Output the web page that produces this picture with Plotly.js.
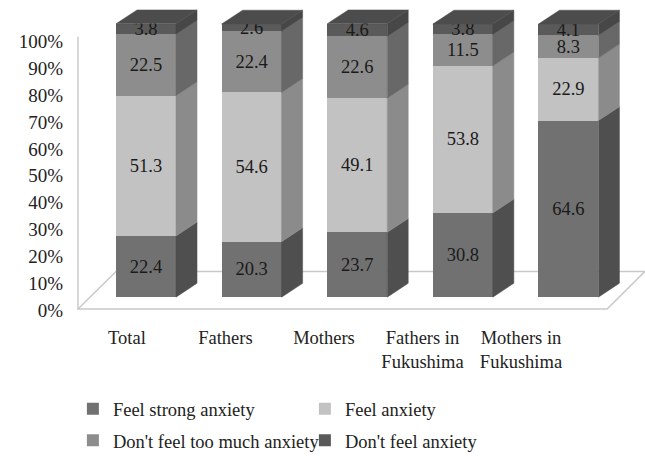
<!DOCTYPE html>
<html>
<head>
<meta charset="utf-8">
<script src="https://cdn.plot.ly/plotly-3.0.1.min.js"></script>
<style>html,body{margin:0;padding:0;background:#fff;}#chart{width:645px;height:460px;}</style>
</head>
<body>
<div id="chart"></div>
<script>
// ---- data ----
const categories = ['Total', 'Fathers', 'Mothers', 'Fathers in<br>Fukushima', 'Mothers in<br>Fukushima'];
const seriesNames = ['Feel strong anxiety', 'Feel anxiety', "Don't feel too much anxiety", "Don't feel anxiety"];
const strongAnxiety = [22.4, 20.3, 23.7, 30.8, 64.6];
const feelAnxiety   = [51.3, 54.6, 49.1, 53.8, 22.9];
const notTooMuch    = [22.5, 22.4, 22.6, 11.5, 8.3];
const noAnxiety     = [3.8, 2.6, 4.6, 3.8, 4.1];
const yTicks = [0, 10, 20, 30, 40, 50, 60, 70, 80, 90, 100];

// ---- style ----
const FONT = 'Liberation Serif';
const frontColors = ['#717171', '#c2c2c2', '#8d8d8d', '#5a5a5a'];
const sideColors  = ['#4f4f4f', '#8b8b8b', '#686868', '#474747'];
const topColor = '#4c4c4c';
const W = 0.568, DX = 0.199, DY = 5.07;

const series = [strongAnxiety, feelAnxiety, notTooMuch, noAnxiety];
const pos = categories.map((_, i) => i);

const traces = [];
series.forEach((vals, j) => {
  traces.push({
    type: 'bar', name: seriesNames[j], x: pos, y: vals, width: W,
    marker: {color: frontColors[j], line: {width: 0}},
    text: vals.map(v => v.toFixed(1)), textposition: 'inside', insidetextanchor: 'middle',
    textangle: 0, constraintext: 'none',
    insidetextfont: {family: FONT, size: 18.5, color: '#1a1a1a'},
    legend: j < 2 ? 'legend' : 'legend2',
    hoverinfo: 'skip'
  });
});

// 3D side faces built from the stacked values
series.forEach((vals, j) => {
  const xs = [], ys = [];
  pos.forEach(i => {
    let base = 0;
    for (let k = 0; k < j; k++) base += series[k][i];
    const top = base + vals[i];
    const xr = i + W / 2;
    xs.push(xr, xr + DX, xr + DX, xr, xr, null);
    ys.push(base, base + DY, top + DY, top, base, null);
  });
  traces.push({type: 'scatter', x: xs, y: ys, mode: 'lines', fill: 'toself',
    fillcolor: sideColors[j], line: {color: sideColors[j], width: 0.5},
    showlegend: false, hoverinfo: 'skip'});
});
{
  const xs = [], ys = [];
  pos.forEach(i => {
    let total = 0;
    series.forEach(s => total += s[i]);
    const xl = i - W / 2, xr = i + W / 2;
    xs.push(xl, xl + DX, xr + DX, xr, xl, null);
    ys.push(total, total + DY, total + DY, total, total, null);
  });
  traces.push({type: 'scatter', x: xs, y: ys, mode: 'lines', fill: 'toself',
    fillcolor: topColor, line: {color: topColor, width: 0.5},
    showlegend: false, hoverinfo: 'skip'});
}
// anchor trace for the label axes
traces.push({type: 'scatter', x: [0], y: [0], xaxis: 'x2', yaxis: 'y2', mode: 'markers',
  marker: {opacity: 0}, showlegend: false, hoverinfo: 'skip'});

const legendBase = {orientation: 'h', xanchor: 'left', yanchor: 'middle', x: -0.009,
  entrywidth: 187, traceorder: 'normal', bgcolor: 'rgba(0,0,0,0)',
  font: {family: FONT, size: 18.5, color: '#222'}};

const layout = {
  width: 645, height: 460,
  margin: {l: 78, r: 0, t: 5, b: 147},
  paper_bgcolor: '#fff', plot_bgcolor: 'rgba(0,0,0,0)',
  font: {family: FONT, size: 18, color: '#222'},
  barmode: 'stack', hovermode: false,
  xaxis: {range: [-0.644, 4.725], showgrid: false, zeroline: false, showticklabels: false, showline: false, fixedrange: true},
  yaxis: {range: [-4.71, 106.88], showgrid: false, zeroline: false, showticklabels: false, showline: false, fixedrange: true},
  xaxis2: {overlaying: 'x', anchor: 'y2', side: 'bottom', range: [-0.497, 5.259],
    tickmode: 'array', tickvals: pos, ticktext: categories, ticks: '',
    showgrid: false, zeroline: false, showline: false, ticklabelstandoff: 14,
    tickfont: {family: FONT, size: 18.5, color: '#222'}},
  yaxis2: {overlaying: 'y', anchor: 'x2', side: 'left', range: [0, 113.65],
    tickmode: 'array', tickvals: yTicks, ticktext: yTicks.map(v => v + '%'), ticks: '',
    showgrid: false, zeroline: false, showline: false, ticklabelstandoff: 14,
    tickfont: {family: FONT, size: 19, color: '#222'}},
  shapes: [
    {type: 'path', xref: 'x', yref: 'y', layer: 'below',
     path: 'M -0.644,-4.35 L 4.366,-4.35 L 4.725,9.42 L -0.284,9.42 Z',
     fillcolor: '#ffffff', line: {color: '#c9c9c9', width: 1.5}},
    {type: 'line', xref: 'paper', yref: 'y2', x0: 0, x1: 0, y0: 0, y1: 101.8, layer: 'below',
     line: {color: '#bdbdbd', width: 1.2}}
  ],
  showlegend: true,
  legend: Object.assign({}, legendBase, {y: -0.325}),
  legend2: Object.assign({}, legendBase, {y: -0.429})
};

Plotly.newPlot('chart', traces, layout, {displayModeBar: false, staticPlot: true});
</script>
</body>
</html>
